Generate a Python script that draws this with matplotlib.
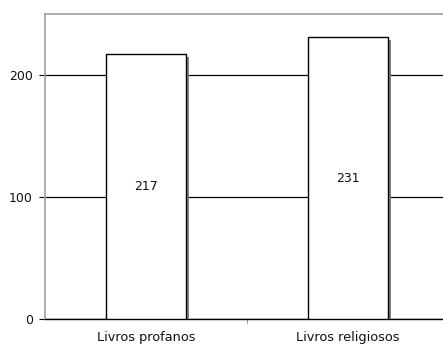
import matplotlib
matplotlib.use("Agg")
import matplotlib.pyplot as plt
import matplotlib.patheffects as pe

categories = ["Livros profanos", "Livros religiosos"]
values = [217, 231]
yticks = [0, 100, 200]

fig = plt.figure(figsize=(4.43, 3.45), dpi=100)
ax = fig.add_axes([0.1016, 0.0754, 0.9120, 0.8840])

x = list(range(len(categories)))
bars = ax.bar(x, values, width=0.4, color="white", edgecolor="black",
              linewidth=1.0, zorder=3)
for b in bars:
    b.set_path_effects([
        pe.SimplePatchShadow(offset=(2.2, -2.2), shadow_rgbFace="#808080", alpha=1.0),
        pe.Normal(),
    ])

for xi, v in zip(x, values):
    ax.text(xi, v / 2, str(v), ha="center", va="center", fontsize=9,
            family="DejaVu Sans", color="#111111", zorder=4)

ax.set_xlim(-0.5, 1.5)
ax.set_ylim(0, 250)
ax.set_yticks(yticks)
ax.set_yticklabels([str(t) for t in yticks], fontsize=9, color="#111111")
ax.yaxis.grid(True, color="black", linewidth=0.9)
ax.set_axisbelow(True)

# category labels centred under bars, tick marks between categories
ax.set_xticks([0.5])
ax.set_xticklabels([""])
ax.tick_params(axis="x", length=3, color="#999999")
ax.set_xticks(x, minor=True)
ax.set_xticklabels(categories, minor=True, fontsize=9.3, color="#111111")
ax.tick_params(axis="x", which="minor", length=0, pad=8.5)
ax.tick_params(axis="y", length=4.5, width=0.8, pad=4.3, color="black")

for side in ("left", "top"):
    ax.spines[side].set_color("#a0a0a0")
    ax.spines[side].set_linewidth(1.2)
ax.spines["right"].set_visible(False)
ax.spines["bottom"].set_color("black")
ax.spines["bottom"].set_linewidth(1.0)

fig.savefig("out.png", dpi=100)
